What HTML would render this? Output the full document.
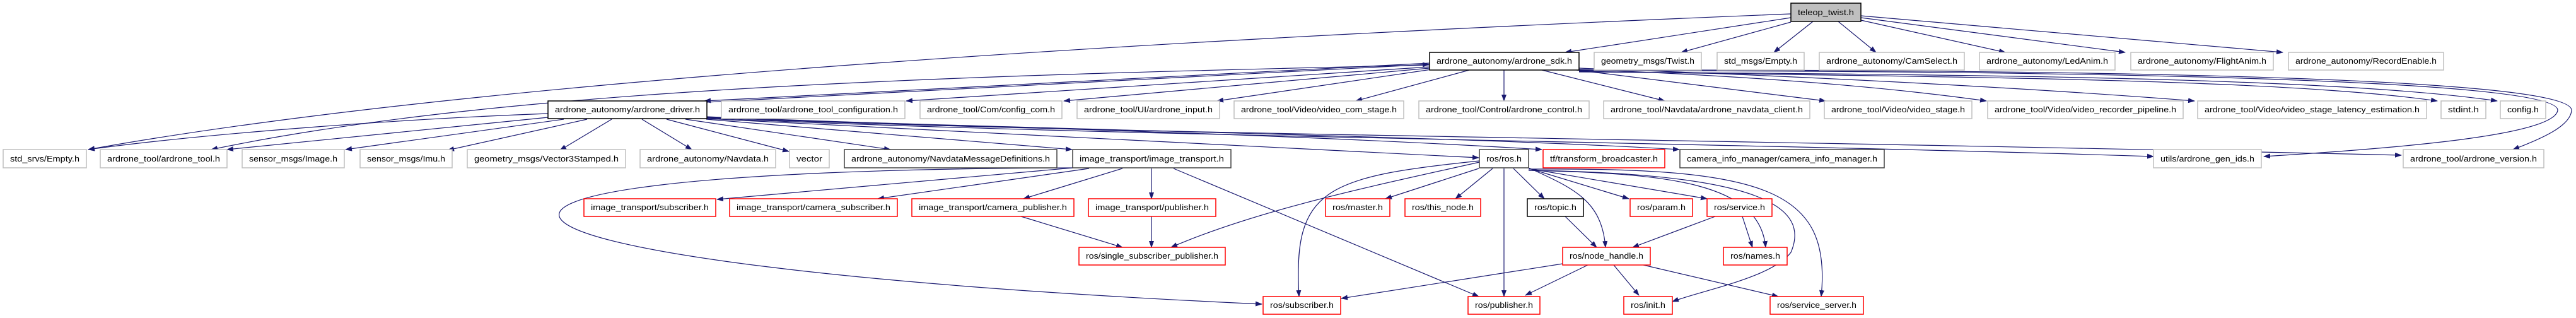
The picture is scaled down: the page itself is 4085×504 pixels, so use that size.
<!DOCTYPE html>
<html><head><meta charset="utf-8"><style>
html,body{margin:0;padding:0;background:#fff;}
svg{display:block;}
text{font-family:"Liberation Sans",sans-serif;font-size:12.5px;fill:#000;}
.g{fill:#fff;stroke:#bfbfbf;stroke-width:1.5}
.b{fill:#fff;stroke:#000;stroke-width:1.5}
.d{fill:#fff;stroke:#404040;stroke-width:1.5}
.r{fill:#fff;stroke:#ff0000;stroke-width:1.5}
.e{fill:none;stroke:#191970;stroke-width:1.2;marker-end:url(#a)}
</style></head><body>
<svg width="4085" height="504" viewBox="0 0 4085 504" xmlns="http://www.w3.org/2000/svg">
<defs><marker id="a" markerUnits="userSpaceOnUse" markerWidth="11" markerHeight="8" refX="10" refY="4" orient="auto"><path d="M0,0 L11,4 L0,8 z" fill="#191970"/></marker></defs>
<g>
<path class="e" d="M2840,28 L2482,83"/>
<path class="e" d="M2840,35 L2666,83"/>
<path class="e" d="M2875,34 L2813,83"/>
<path class="e" d="M2915,34 L2975,83"/>
<path class="e" d="M2951,32 L3180,83"/>
<path class="e" d="M2951,28 L3370,83"/>
<path class="e" d="M2951,25 L3620,83"/>
<path class="e" d="M2840,22 Q900,100 140,237"/>
<path class="e" d="M2267,103 C1500,120 800,140 335,237"/>
<path class="e" d="M2267,100 L1117,160"/>
<path class="e" d="M1121,162 L2266,102"/>
<path class="e" d="M2267,106 L1437,160"/>
<path class="e" d="M2267,108 L1687,160"/>
<path class="e" d="M2270,110 L1930,160"/>
<path class="e" d="M2330,111 L2150,160"/>
<path class="e" d="M2385,111 L2385,160"/>
<path class="e" d="M2445,111 L2640,160"/>
<path class="e" d="M2500,111 L2895,160"/>
<path class="e" d="M2504,110 Q2900,125 3150,160"/>
<path class="e" d="M2504,108 Q3100,130 3480,160"/>
<path class="e" d="M2504,113 C3000,122 3600,122 3865,160"/>
<path class="e" d="M2504,114 C3100,118 3700,122 3960,160"/>
<path class="e" d="M2504,112 C3300,112 4060,125 4056,175 C4050,215 3800,235 3590,248"/>
<path class="e" d="M2504,111 C3400,110 4080,125 4078,175 C4076,200 4030,220 3985,237"/>
<path class="e" d="M869,180 C600,190 300,215 140,237"/>
<path class="e" d="M869,186 L360,237"/>
<path class="e" d="M894,189 L548,237"/>
<path class="e" d="M931,189 L710,238"/>
<path class="e" d="M970,189 L888,238"/>
<path class="e" d="M1018,189 L1097,237"/>
<path class="e" d="M1057,189 L1251,240"/>
<path class="e" d="M1087,189 L1412,237"/>
<path class="e" d="M1120,189 L1700,237"/>
<path class="e" d="M1121,188 Q1700,215 2345,250"/>
<path class="e" d="M1121,186 C1500,200 2000,210 2445,237"/>
<path class="e" d="M1121,185 C1600,205 2300,215 2663,237"/>
<path class="e" d="M1121,187 C1700,215 2700,225 3415,248"/>
<path class="e" d="M1121,186 C1700,212 2600,218 3808,246"/>
<path class="e" d="M1701,266 L1137,316"/>
<path class="e" d="M1727,267 L1392,315"/>
<path class="e" d="M1780,267 L1623,315"/>
<path class="e" d="M1826,267 L1826,315"/>
<path class="e" d="M1861,267 L2345,470"/>
<path class="e" d="M1701,266 C500,270 650,420 2001,482"/>
<path class="e" d="M1619,343 L1780,392"/>
<path class="e" d="M1826,343 L1826,392"/>
<path class="e" d="M2346,257 C2200,290 2000,330 1857,392"/>
<path class="e" d="M2346,255 C2100,280 2050,300 2060,470"/>
<path class="e" d="M2345,267 L2197,315"/>
<path class="e" d="M2367,267 L2308,315"/>
<path class="e" d="M2385,267 L2385,470"/>
<path class="e" d="M2400,267 L2449,315"/>
<path class="e" d="M2424,266 C2500,300 2540,320 2546,392"/>
<path class="e" d="M2425,267 L2583,315"/>
<path class="e" d="M2429,268 L2707,315"/>
<path class="e" d="M2424,270 C2650,275 2790,290 2800,392"/>
<path class="e" d="M2424,270 C2800,275 2870,330 2840,400 C2810,440 2700,460 2652,478"/>
<path class="e" d="M2424,268 C2800,265 2905,300 2888,470"/>
<path class="e" d="M2482,343 L2532,392"/>
<path class="e" d="M2720,343 L2589,392"/>
<path class="e" d="M2763,343 L2779,392"/>
<path class="e" d="M2478,418 L2127,473"/>
<path class="e" d="M2518,420 L2419,468"/>
<path class="e" d="M2559,420 L2599,468"/>
<path class="e" d="M2606,420 L2820,470"/>
</g>
<g>
<rect x="2840" y="5" width="111" height="29" fill="#bfbfbf" stroke="#000" stroke-width="1.5"/><text x="2895.5" y="24" text-anchor="middle" textLength="89" lengthAdjust="spacingAndGlyphs">teleop_twist.h</text>

<rect class="b" x="2267" y="83" width="237" height="28"/><text x="2385.5" y="101" text-anchor="middle" textLength="215" lengthAdjust="spacingAndGlyphs">ardrone_autonomy/ardrone_sdk.h</text>
<rect class="g" x="2528" y="83" width="170" height="28"/><text x="2613" y="101" text-anchor="middle" textLength="148" lengthAdjust="spacingAndGlyphs">geometry_msgs/Twist.h</text>
<rect class="g" x="2723" y="83" width="138" height="28"/><text x="2792" y="101" text-anchor="middle" textLength="116" lengthAdjust="spacingAndGlyphs">std_msgs/Empty.h</text>
<rect class="g" x="2885" y="83" width="230" height="28"/><text x="3000" y="101" text-anchor="middle" textLength="208" lengthAdjust="spacingAndGlyphs">ardrone_autonomy/CamSelect.h</text>
<rect class="g" x="3139" y="83" width="215" height="28"/><text x="3246.5" y="101" text-anchor="middle" textLength="193" lengthAdjust="spacingAndGlyphs">ardrone_autonomy/LedAnim.h</text>
<rect class="g" x="3379" y="83" width="226" height="28"/><text x="3492" y="101" text-anchor="middle" textLength="204" lengthAdjust="spacingAndGlyphs">ardrone_autonomy/FlightAnim.h</text>
<rect class="g" x="3629" y="83" width="246" height="28"/><text x="3752" y="101" text-anchor="middle" textLength="224" lengthAdjust="spacingAndGlyphs">ardrone_autonomy/RecordEnable.h</text>

<rect class="b" x="869" y="160" width="252" height="28"/><text x="995" y="178" text-anchor="middle" textLength="230" lengthAdjust="spacingAndGlyphs">ardrone_autonomy/ardrone_driver.h</text>
<rect class="g" x="1144" y="160" width="291" height="28"/><text x="1289.5" y="178" text-anchor="middle" textLength="269" lengthAdjust="spacingAndGlyphs">ardrone_tool/ardrone_tool_configuration.h</text>
<rect class="g" x="1459" y="160" width="225" height="28"/><text x="1571.5" y="178" text-anchor="middle" textLength="203" lengthAdjust="spacingAndGlyphs">ardrone_tool/Com/config_com.h</text>
<rect class="g" x="1708" y="160" width="226" height="28"/><text x="1821" y="178" text-anchor="middle" textLength="204" lengthAdjust="spacingAndGlyphs">ardrone_tool/UI/ardrone_input.h</text>
<rect class="g" x="1957" y="160" width="269" height="28"/><text x="2091.5" y="178" text-anchor="middle" textLength="247" lengthAdjust="spacingAndGlyphs">ardrone_tool/Video/video_com_stage.h</text>
<rect class="g" x="2250" y="160" width="270" height="28"/><text x="2385" y="178" text-anchor="middle" textLength="248" lengthAdjust="spacingAndGlyphs">ardrone_tool/Control/ardrone_control.h</text>
<rect class="g" x="2543" y="160" width="327" height="28"/><text x="2706.5" y="178" text-anchor="middle" textLength="305" lengthAdjust="spacingAndGlyphs">ardrone_tool/Navdata/ardrone_navdata_client.h</text>
<rect class="g" x="2893" y="160" width="234" height="28"/><text x="3010" y="178" text-anchor="middle" textLength="212" lengthAdjust="spacingAndGlyphs">ardrone_tool/Video/video_stage.h</text>
<rect class="g" x="3152" y="160" width="310" height="28"/><text x="3307" y="178" text-anchor="middle" textLength="288" lengthAdjust="spacingAndGlyphs">ardrone_tool/Video/video_recorder_pipeline.h</text>
<rect class="g" x="3485" y="160" width="363" height="28"/><text x="3666.5" y="178" text-anchor="middle" textLength="341" lengthAdjust="spacingAndGlyphs">ardrone_tool/Video/video_stage_latency_estimation.h</text>
<rect class="g" x="3871" y="160" width="71" height="28"/><text x="3906.5" y="178" text-anchor="middle" textLength="49" lengthAdjust="spacingAndGlyphs">stdint.h</text>
<rect class="g" x="3965" y="160" width="72" height="28"/><text x="4001" y="178" text-anchor="middle" textLength="50" lengthAdjust="spacingAndGlyphs">config.h</text>

<rect class="g" x="5" y="237" width="132" height="29"/><text x="71" y="256" text-anchor="middle" textLength="110" lengthAdjust="spacingAndGlyphs">std_srvs/Empty.h</text>
<rect class="g" x="159" y="237" width="201" height="29"/><text x="259.5" y="256" text-anchor="middle" textLength="179" lengthAdjust="spacingAndGlyphs">ardrone_tool/ardrone_tool.h</text>
<rect class="g" x="384" y="237" width="162" height="29"/><text x="465" y="256" text-anchor="middle" textLength="140" lengthAdjust="spacingAndGlyphs">sensor_msgs/Image.h</text>
<rect class="g" x="571" y="237" width="146" height="29"/><text x="644" y="256" text-anchor="middle" textLength="124" lengthAdjust="spacingAndGlyphs">sensor_msgs/Imu.h</text>
<rect class="g" x="741" y="237" width="251" height="29"/><text x="866.5" y="256" text-anchor="middle" textLength="229" lengthAdjust="spacingAndGlyphs">geometry_msgs/Vector3Stamped.h</text>
<rect class="g" x="1015" y="237" width="215" height="29"/><text x="1122.5" y="256" text-anchor="middle" textLength="193" lengthAdjust="spacingAndGlyphs">ardrone_autonomy/Navdata.h</text>
<rect class="g" x="1252" y="237" width="63" height="29"/><text x="1283.5" y="256" text-anchor="middle" textLength="41" lengthAdjust="spacingAndGlyphs">vector</text>
<rect class="d" x="1339" y="237" width="337" height="29"/><text x="1507.5" y="256" text-anchor="middle" textLength="315" lengthAdjust="spacingAndGlyphs">ardrone_autonomy/NavdataMessageDefinitions.h</text>
<rect class="d" x="1701" y="237" width="251" height="29"/><text x="1826.5" y="256" text-anchor="middle" textLength="229" lengthAdjust="spacingAndGlyphs">image_transport/image_transport.h</text>
<rect class="d" x="2346" y="237" width="78" height="29"/><text x="2385" y="256" text-anchor="middle" textLength="56" lengthAdjust="spacingAndGlyphs">ros/ros.h</text>
<rect class="r" x="2447" y="237" width="193" height="29"/><text x="2543.5" y="256" text-anchor="middle" textLength="171" lengthAdjust="spacingAndGlyphs">tf/transform_broadcaster.h</text>
<rect class="d" x="2664" y="237" width="324" height="29"/><text x="2826" y="256" text-anchor="middle" textLength="302" lengthAdjust="spacingAndGlyphs">camera_info_manager/camera_info_manager.h</text>
<rect class="g" x="3415" y="237" width="171" height="29"/><text x="3500.5" y="256" text-anchor="middle" textLength="149" lengthAdjust="spacingAndGlyphs">utils/ardrone_gen_ids.h</text>
<rect class="g" x="3811" y="237" width="223" height="29"/><text x="3922.5" y="256" text-anchor="middle" textLength="201" lengthAdjust="spacingAndGlyphs">ardrone_tool/ardrone_version.h</text>

<rect class="r" x="926" y="315" width="209" height="28"/><text x="1030.5" y="333" text-anchor="middle" textLength="187" lengthAdjust="spacingAndGlyphs">image_transport/subscriber.h</text>
<rect class="r" x="1157" y="315" width="266" height="28"/><text x="1290" y="333" text-anchor="middle" textLength="244" lengthAdjust="spacingAndGlyphs">image_transport/camera_subscriber.h</text>
<rect class="r" x="1446" y="315" width="257" height="28"/><text x="1574.5" y="333" text-anchor="middle" textLength="235" lengthAdjust="spacingAndGlyphs">image_transport/camera_publisher.h</text>
<rect class="r" x="1726" y="315" width="202" height="28"/><text x="1827" y="333" text-anchor="middle" textLength="180" lengthAdjust="spacingAndGlyphs">image_transport/publisher.h</text>
<rect class="r" x="2102" y="315" width="102" height="28"/><text x="2153" y="333" text-anchor="middle" textLength="80" lengthAdjust="spacingAndGlyphs">ros/master.h</text>
<rect class="r" x="2228" y="315" width="120" height="28"/><text x="2288" y="333" text-anchor="middle" textLength="98" lengthAdjust="spacingAndGlyphs">ros/this_node.h</text>
<rect class="b" x="2422" y="315" width="89" height="28"/><text x="2466.5" y="333" text-anchor="middle" textLength="67" lengthAdjust="spacingAndGlyphs">ros/topic.h</text>
<rect class="r" x="2585" y="315" width="99" height="28"/><text x="2634.5" y="333" text-anchor="middle" textLength="77" lengthAdjust="spacingAndGlyphs">ros/param.h</text>
<rect class="r" x="2707" y="315" width="103" height="28"/><text x="2758.5" y="333" text-anchor="middle" textLength="81" lengthAdjust="spacingAndGlyphs">ros/service.h</text>

<rect class="r" x="1711" y="392" width="232" height="28"/><text x="1827" y="410" text-anchor="middle" textLength="210" lengthAdjust="spacingAndGlyphs">ros/single_subscriber_publisher.h</text>
<rect class="r" x="2478" y="392" width="139" height="28"/><text x="2547.5" y="410" text-anchor="middle" textLength="117" lengthAdjust="spacingAndGlyphs">ros/node_handle.h</text>
<rect class="r" x="2733" y="392" width="101" height="28"/><text x="2783.5" y="410" text-anchor="middle" textLength="79" lengthAdjust="spacingAndGlyphs">ros/names.h</text>

<rect class="r" x="2003" y="470" width="123" height="28"/><text x="2064.5" y="488" text-anchor="middle" textLength="101" lengthAdjust="spacingAndGlyphs">ros/subscriber.h</text>
<rect class="r" x="2328" y="470" width="114" height="28"/><text x="2385" y="488" text-anchor="middle" textLength="92" lengthAdjust="spacingAndGlyphs">ros/publisher.h</text>
<rect class="r" x="2575" y="470" width="77" height="28"/><text x="2613.5" y="488" text-anchor="middle" textLength="55" lengthAdjust="spacingAndGlyphs">ros/init.h</text>
<rect class="r" x="2807" y="470" width="148" height="28"/><text x="2881" y="488" text-anchor="middle" textLength="126" lengthAdjust="spacingAndGlyphs">ros/service_server.h</text>
</g>
</svg>
</body></html>
